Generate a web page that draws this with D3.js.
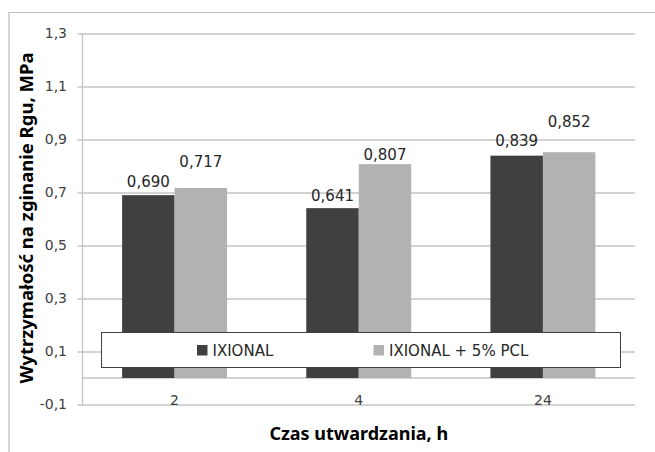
<!DOCTYPE html>
<html lang="pl">
<head>
  <meta charset="UTF-8">
  <title>Wytrzymałość na zginanie</title>
  <script src="https://d3js.org/d3.v7.min.js"></script>
  <style>
    body { margin: 0; background: #fff; }
    svg { display: block; }
    .tick-label { font-family: "DejaVu Sans", sans-serif; font-size: 14px; fill: #404040; }
    .value { font-family: "DejaVu Sans", sans-serif; font-size: 15px; fill: #262626; }
    .title { font-family: "Noto Sans", sans-serif; font-weight: bold; fill: #000; }
    .legend-text { font-family: "DejaVu Sans", sans-serif; font-size: 15px; fill: #262626; }
  </style>
</head>
<body>
  <svg width="655" height="452"></svg>
  <script>
    const categories = ["2", "4", "24"];
    const seriesNames = ["IXIONAL", "IXIONAL + 5% PCL"];
    const ixional = [0.690, 0.641, 0.839];
    const ixionalPcl = [0.717, 0.807, 0.852];
    const yTicks = [-0.1, 0.1, 0.3, 0.5, 0.7, 0.9, 1.1, 1.3];

    // Excel nudged some labels upward to avoid overlaps
    const labelLift = [[8, 21], [7, 4], [10, 25]];

    const colors = ["#404040", "#b2b2b2"];
    const fmt = v => d3.format(".3f")(v).replace(".", ",");
    const fmtTick = v => d3.format(".1f")(v).replace(".", ",").replace("\u2212", "-");

    const svg = d3.select("svg");
    const plotLeft = 82.5, plotRight = 635, plotTop = 33.5, plotBottom = 404.5;

    // outer chart border (top and left only visible)
    svg.append("path")
      .attr("d", "M9,452V12.5H655")
      .attr("fill", "none")
      .attr("stroke", "#bdbdbd")
      .attr("stroke-width", 1.2);

    const y = d3.scaleLinear().domain([-0.1, 1.3]).range([plotBottom, plotTop]);
    const x0 = d3.scaleBand().domain(categories).range([plotLeft, plotRight])
      .paddingInner(0.43).paddingOuter(0.215);
    const x1 = d3.scaleBand().domain(seriesNames).range([0, x0.bandwidth()]);

    // gridlines and y ticks
    const grid = svg.append("g").attr("transform", `translate(${plotLeft},0)`)
      .call(d3.axisLeft(y).tickValues(yTicks).tickSize(-(plotRight - plotLeft)).tickFormat(""));
    grid.select(".domain").remove();
    grid.selectAll("line").attr("stroke", "#c4c4c4").attr("stroke-width", 1.3).attr("x1", -5);

    svg.append("g").selectAll("text")
      .data(yTicks).join("text")
      .attr("class", "tick-label")
      .attr("x", 67).attr("y", d => y(d)).attr("dy", "0.35em")
      .attr("text-anchor", "end")
      .text(fmtTick);

    // zero line
    svg.append("line")
      .attr("x1", plotLeft).attr("x2", plotRight)
      .attr("y1", y(0)).attr("y2", y(0))
      .attr("stroke", "#c4c4c4").attr("stroke-width", 1.3);

    // y axis line
    svg.append("line")
      .attr("x1", plotLeft).attr("x2", plotLeft)
      .attr("y1", plotTop).attr("y2", plotBottom)
      .attr("stroke", "#c4c4c4").attr("stroke-width", 1.3);

    const rows = categories.map((c, i) => ({ cat: i, vals: [ixional[i], ixionalPcl[i]] }));

    const groups = svg.append("g").selectAll("g")
      .data(rows).join("g")
      .attr("transform", d => `translate(${x0(categories[d.cat])},0)`);

    groups.selectAll("rect")
      .data(d => d.vals.map((v, j) => ({ v, j, cat: d.cat })))
      .join("rect")
      .attr("x", d => x1(seriesNames[d.j]))
      .attr("width", x1.bandwidth())
      .attr("y", d => y(d.v))
      .attr("height", d => y(0) - y(d.v))
      .attr("fill", d => colors[d.j]);

    groups.selectAll("text")
      .data(d => d.vals.map((v, j) => ({ v, j, cat: d.cat })))
      .join("text")
      .attr("class", "value")
      .attr("x", d => x1(seriesNames[d.j]) + x1.bandwidth() / 2)
      .attr("y", d => y(d.v) - labelLift[d.cat][d.j])
      .attr("text-anchor", "middle")
      .text(d => fmt(d.v));

    // category labels
    svg.append("g").selectAll("text")
      .data(categories).join("text")
      .attr("class", "tick-label")
      .attr("x", d => x0(d) + x0.bandwidth() / 2)
      .attr("y", 405)
      .attr("text-anchor", "middle")
      .text(d => d);

    // legend
    const legend = svg.append("g");
    legend.append("rect")
      .attr("x", 101.5).attr("y", 332.5)
      .attr("width", 519).attr("height", 35)
      .attr("fill", "#fff").attr("stroke", "#404040").attr("stroke-width", 1);
    const legendX = [197, 373.5];
    seriesNames.forEach((s, i) => {
      legend.append("rect")
        .attr("x", legendX[i]).attr("y", 345)
        .attr("width", 10.5).attr("height", 10.5)
        .attr("fill", colors[i]);
      legend.append("text")
        .attr("class", "legend-text")
        .attr("x", legendX[i] + 15.5).attr("y", 355.5)
        .text(s);
    });

    // axis titles
    svg.append("text")
      .attr("class", "title")
      .attr("font-size", 18)
      .attr("x", (plotLeft + plotRight) / 2).attr("y", 440)
      .attr("text-anchor", "middle")
      .text("Czas utwardzania, h");

    svg.append("text")
      .attr("class", "title")
      .attr("font-size", 18.5)
      .attr("transform", "translate(33,218) rotate(-90)")
      .attr("text-anchor", "middle")
      .text("Wytrzymałość na zginanie Rgu, MPa");
  </script>
</body>
</html>
